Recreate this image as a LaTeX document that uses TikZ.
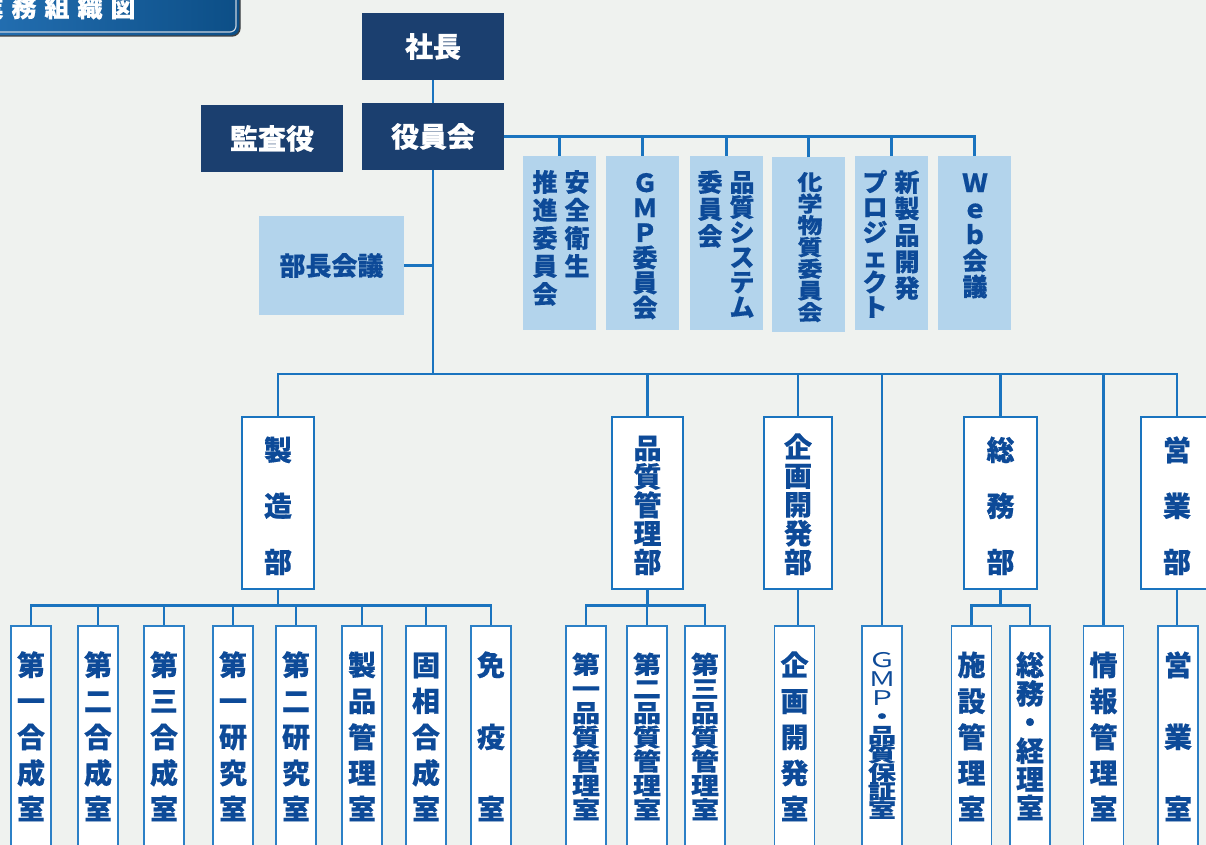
\documentclass[tikz,border=0pt]{standalone}
\usepackage{fontspec}
\usepackage{graphicx}
\newfontfamily\jp{Noto Sans CJK JP}[BoldFeatures={FakeBold=0.4}]
\definecolor{navyc}{HTML}{1B3F6F}
\definecolor{lightc}{HTML}{B3D4EC}
\definecolor{textc}{HTML}{0D4A98}
\definecolor{linec}{HTML}{1A74BF}
\definecolor{roomc}{HTML}{2C80C6}
\definecolor{bgc}{HTML}{EFF2EF}
\definecolor{titleL}{HTML}{2470B3}
\definecolor{titleR}{HTML}{0C4E86}
\definecolor{silverc}{HTML}{C8D2DE}
\newcommand\fntC{\jp\bfseries\fontsize{25}{25}\selectfont}
\newcommand\fntD{\jp\bfseries\fontsize{28}{28}\selectfont}
\newcommand\fntT{\jp\bfseries\fontsize{25}{25}\selectfont}
\newcommand\fntB{\jp\bfseries\fontsize{26}{26}\selectfont}
\ExplSyntaxOn
\NewDocumentCommand\vst{O{1}mm}{
  \vtop{\baselineskip=#2pt \lineskiplimit=-\maxdimen \lineskip=0pt
    \tl_map_inline:nn {#3} {\hbox to 1em {\hss\scalebox{1}[#1]{##1}\hss}}}}
\ExplSyntaxOff
\tikzset{
  navy/.style={fill=navyc, text=white, font=\fntD, inner sep=0, minimum width=142pt, minimum height=67pt},
  cbox/.style={fill=lightc, inner sep=0, minimum width=73pt, minimum height=174pt},
  dept/.style={draw=linec, line width=2.6pt, fill=white, inner sep=0, minimum height=172pt},
  room/.style={draw=roomc, line width=1.6pt, fill=white, inner sep=0, minimum width=40pt, minimum height=244pt},
  vt/.style={text=textc, inner sep=0, anchor=base},
  conn/.style={draw=linec, line width=2.4pt},
}
\begin{document}
\begin{tikzpicture}[x=1pt,y=-1pt]
\path[use as bounding box, clip] (0,0) rectangle (1206,845);
\fill[bgc] (0,0) rectangle (1206,845);
% title plate
\draw[line width=1.4pt, draw=black!75, rounded corners=8pt, left color=titleL, right color=titleR] (-20,-20) rectangle (240,36);
\draw[line width=1.2pt, draw=silverc, rounded corners=6pt] (-20,-20) rectangle (236,32);
\node[font=\fntT, text=white, anchor=base, inner sep=0] (title) at (57,17) {業\hspace{8pt}務\hspace{8pt}組\hspace{8pt}織\hspace{8pt}図};
% top
\node[navy] (shacho) at (433,46.5) {社長};
\node[navy] (yakuin) at (433,136.5) {役員会};
\node[navy] (kansa) at (272,138.5) {監査役};
\node[fill=lightc, inner sep=0, minimum width=145pt, minimum height=99pt, text=textc, font=\fntB] (bucho) at (331.5,265.5) {部長会議};
% committees
\node[cbox] (c1) at (559.5,243) {};
\node[cbox] (c2) at (642.5,243) {};
\node[cbox] (c3) at (726.5,243) {};
\node[cbox] (c4) at (808.5,244.5) {};
\node[cbox] (c5) at (891.5,243) {};
\node[cbox] (c6) at (974.5,243) {};
\node[vt, font=\fntC] (c1t) at (561,191.5) {\vst{28}{推進委員会}\hspace{7pt}\vst{28}{安全衛生}};
\node[vt, font=\fntC] (c2t) at (645,192) {\vst{25}{ＧＭＰ委員会}};
\node[vt, font=\fntC] (c3t) at (726,191.5) {\vst{27}{委員会}\hspace{7pt}\vst{25}{品質システム}};
\node[vt, font=\fntC] (c4t) at (810,190) {\vst[0.85]{21.7}{化学物質委員会}};
\node[vt, font=\fntC] (c5t) at (891,191.5) {\vst{25}{プロジェクト}\hspace{7pt}\vst{26.5}{新製品開発}};
\node[vt, font=\fntC] (c6t) at (975,192) {\vst{26}{Ｗｅｂ会議}};
% departments
\node[dept, minimum width=72pt] (seizo) at (278,503) {};
\node[dept, minimum width=71pt] (hinkan) at (647.5,503) {};
\node[dept, minimum width=68pt] (kikaku) at (798,503) {};
\node[dept, minimum width=73pt] (somu) at (1000.5,503) {};
\node[dept, minimum width=72pt] (eigyo) at (1177,503) {};
\node[vt, font=\fntD] (seizot) at (278,460.5) {\vst{56}{製造部}};
\node[vt, font=\fntD] (hinkant) at (647.5,458.5) {\vst{28.5}{品質管理部}};
\node[vt, font=\fntD] (kikakut) at (798,457.5) {\vst{28.75}{企画開発部}};
\node[vt, font=\fntD] (somut) at (1000.5,460.5) {\vst{56}{総務部}};
\node[vt, font=\fntD] (eigyot) at (1177,460.5) {\vst{56}{営業部}};
% rooms
\foreach \n/\x in {r1/31,r2/98,r3/164,r4/233,r5/296,r6/362,r7/426,r8/491,q1/586,q2/647,q3/705,k1/794.5,g1/882,s1/971.5,s2/1030,j1/1103.5,e1/1178}
  \node[room] (\n) at (\x,748) {};
\node[vt, font=\fntD] (r1t) at (31,675.5) {\vst{36}{第一合成室}};
\node[vt, font=\fntD] (r2t) at (98,675.5) {\vst{36}{第二合成室}};
\node[vt, font=\fntD] (r3t) at (164,675.5) {\vst{36}{第三合成室}};
\node[vt, font=\fntD] (r4t) at (233,675.5) {\vst{36}{第一研究室}};
\node[vt, font=\fntD] (r5t) at (296,675.5) {\vst{36}{第二研究室}};
\node[vt, font=\fntD] (r6t) at (362,675.5) {\vst{36}{製品管理室}};
\node[vt, font=\fntD] (r7t) at (426,675.5) {\vst{36}{固相合成室}};
\node[vt, font=\fntD] (r8t) at (491,675.5) {\vst{72}{免疫室}};
\node[vt, font=\fntD] (q1t) at (586,673.5) {\vst[0.86]{24.2}{第一品質管理室}};
\node[vt, font=\fntD] (q2t) at (647,673.5) {\vst[0.86]{24.2}{第二品質管理室}};
\node[vt, font=\fntD] (q3t) at (705,673.5) {\vst[0.86]{24.2}{第三品質管理室}};
\node[vt, font=\fntD] (k1t) at (794.5,675.5) {\vst{36}{企画開発室}};
\node[vt, font=\fntD] (g1t) at (882,667.5) {\vst[0.72]{18.75}{{\mdseries Ｇ}{\mdseries Ｍ}{\mdseries Ｐ}・品質保証室}};
\node[vt, font=\fntD] (s1t) at (971.5,675.5) {\vst{36}{施設管理室}};
\node[vt, font=\fntD] (s2t) at (1030,675.5) {\vst{28.6}{総務・経理室}};
\node[vt, font=\fntD] (j1t) at (1103.5,675.5) {\vst{36}{情報管理室}};
\node[vt, font=\fntD] (e1t) at (1178,675.5) {\vst{72}{営業室}};
% connectors
\draw[conn] (shacho) -- (yakuin);
\draw[conn] (yakuin.east) -| (c6.north);
\foreach \c in {c1,c2,c3,c4,c5} \draw[conn] (\c.north) -- (\c.north |- yakuin.east);
\coordinate (mb) at (433,374);
\draw[conn] (yakuin.south) -- (mb);
\draw[conn] (bucho.east) -- (bucho.east -| mb);
\draw[conn] (seizo.north) |- (mb) -| (eigyo.north);
\foreach \d in {hinkan,kikaku,somu,g1,j1} \draw[conn] (\d.north) -- (\d.north |- mb);
\draw[conn] (seizo.south) -- ++(0,15) coordinate (sb1);
\draw[conn] (r1.north) |- (sb1) -| (r8.north);
\foreach \r in {r2,r3,r4,r5,r6,r7} \draw[conn] (\r.north) -- (\r.north |- sb1);
\draw[conn] (hinkan.south) -- ++(0,15) coordinate (sb2);
\draw[conn] (q1.north) |- (sb2) -| (q3.north);
\draw[conn] (q2.north) -- (q2.north |- sb2);
\draw[conn] (kikaku.south) -- (kikaku.south |- k1.north);
\draw[conn] (somu.south) -- ++(0,15) coordinate (sb3);
\draw[conn] (s1.north) |- (sb3) -| (s2.north);
\draw[conn] (eigyo.south) -- (eigyo.south |- e1.north);
\end{tikzpicture}
\end{document}
